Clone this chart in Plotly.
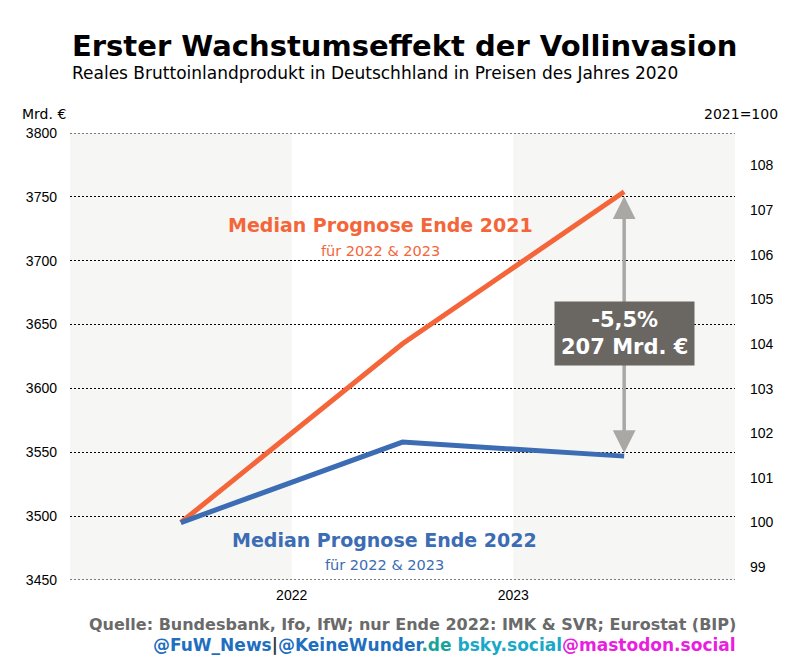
"""Erster Wachstumseffekt der Vollinvasion - BIP-Prognosen Ende 2021 vs. Ende 2022"""

import plotly.graph_objects as go

# data
periods = ["2021", "2022", "2023"]
prognose_2021 = [3495, 3635, 3754]
prognose_2022 = [3495, 3558, 3547]
left_ticks = [3450, 3500, 3550, 3600, 3650, 3700, 3750, 3800]
right_ticks = [99, 100, 101, 102, 103, 104, 105, 106, 107, 108]
year_ticks = ["2022", "2023"]

ORANGE = "#f4663a"
BLUE = "#3b6cb4"
GRAY_BOX = "#6a6662"
GRID_DASH = "2px,2px"

x_pos = list(range(len(periods)))
y_range = [3450, 3800]
base = prognose_2021[0]
# right axis in index points (2021=100)
y2_range = [100 * v / base for v in y_range]

fig = go.Figure()

fig.add_trace(go.Scatter(x=x_pos, y=prognose_2021, mode="lines",
                         line=dict(color=ORANGE, width=5), showlegend=False))
fig.add_trace(go.Scatter(x=x_pos, y=prognose_2022, mode="lines",
                         line=dict(color=BLUE, width=5), showlegend=False))
# invisible trace so the right axis is drawn
fig.add_trace(go.Scatter(x=[x_pos[0]], y=[100], yaxis="y2", mode="markers",
                         marker=dict(opacity=0), showlegend=False, hoverinfo="skip"))

# light bands for every second year
for x0 in (-0.5, 1.5):
    fig.add_shape(type="rect", xref="x", yref="y", x0=x0, x1=x0 + 1,
                  y0=y_range[0], y1=y_range[1], fillcolor="#f6f6f4",
                  line=dict(width=0), layer="below")

# plotly leaves out the grid lines at the range ends, so draw them on top
for yv in y_range:
    fig.add_shape(type="line", xref="paper", yref="y", x0=0, x1=1, y0=yv, y1=yv,
                  line=dict(color="black", width=1, dash=GRID_DASH), layer="above")

annotations = []

# series labels
annotations.append(dict(x=0.9, y=3728, text="<b>Median Prognose Ende 2021</b>", showarrow=False,
                        font=dict(family="DejaVu Sans", size=19, color=ORANGE)))
annotations.append(dict(x=0.9, y=3708, text="für 2022 & 2023", showarrow=False,
                        font=dict(family="DejaVu Sans", size=14.5, color=ORANGE)))
annotations.append(dict(x=0.92, y=3481, text="<b>Median Prognose Ende 2022</b>", showarrow=False,
                        font=dict(family="DejaVu Sans", size=19, color=BLUE)))
annotations.append(dict(x=0.92, y=3462, text="für 2022 & 2023", showarrow=False,
                        font=dict(family="DejaVu Sans", size=14.5, color=BLUE)))

# double headed arrow between the two forecasts
gap = prognose_2021[-1] - prognose_2022[-1]
annotations.append(dict(x=x_pos[-1], y=prognose_2022[-1], ax=x_pos[-1], ay=prognose_2021[-1],
                        xref="x", yref="y", axref="x", ayref="y", text="",
                        showarrow=True, arrowhead=2, arrowside="end+start",
                        arrowsize=1.3, arrowwidth=3.5, arrowcolor="#a9a8a4",
                        startstandoff=3, standoff=3))
pct = gap / prognose_2021[-1] * 100
annotations.append(dict(x=x_pos[-1], y=3643,
                        text=f"<b>-{pct:.1f}%<br>{gap} Mrd. €</b>".replace(".", ",", 1),
                        showarrow=False, bgcolor=GRAY_BOX, borderpad=6,
                        font=dict(family="DejaVu Sans", size=21, color="white")))

# axis unit labels
annotations.append(dict(xref="paper", yref="paper", x=-0.075, y=1.02, xanchor="left", yanchor="bottom",
                        text="Mrd. €", showarrow=False,
                        font=dict(family="DejaVu Sans", size=14, color="black")))
annotations.append(dict(xref="paper", yref="paper", x=1.068, y=1.02, xanchor="right", yanchor="bottom",
                        text="2021=100", showarrow=False,
                        font=dict(family="DejaVu Sans", size=14, color="black")))

# title and subtitle
annotations.append(dict(xref="paper", yref="paper", x=0, y=1.195, xanchor="left", yanchor="middle",
                        text="<b>Erster Wachstumseffekt der Vollinvasion</b>", showarrow=False,
                        font=dict(family="DejaVu Sans", size=29, color="black")))
annotations.append(dict(xref="paper", yref="paper", x=0, y=1.134, xanchor="left", yanchor="middle",
                        text="Reales Bruttoinlandprodukt in Deutschhland in Preisen des Jahres 2020",
                        showarrow=False, font=dict(family="DejaVu Sans", size=17, color="black")))

# source footer
annotations.append(dict(xref="paper", yref="paper", x=1.005, y=-0.1, xanchor="right", yanchor="middle",
                        text="<b>Quelle: Bundesbank, Ifo, IfW; nur Ende 2022: IMK & SVR; Eurostat (BIP)</b>",
                        showarrow=False, font=dict(family="DejaVu Sans", size=16, color="#6a6a6a")))
annotations.append(dict(xref="paper", yref="paper", x=1.005, y=-0.145, xanchor="right", yanchor="middle",
                        text=("<b><span style='color:#1f6fc0'>@FuW_News</span>"
                              "<span style='color:#333'>|</span>"
                              "<span style='color:#1f6fc0'>@KeineWunder</span>"
                              "<span style='color:#1aa39a'>.de </span>"
                              "<span style='color:#1aa8c8'>bsky.social</span>"
                              "<span style='color:#e81ee0'>@mastodon.social</span></b>"),
                        showarrow=False, font=dict(family="DejaVu Sans", size=17)))

# page body has an 8px margin, so the figure is drawn 8px smaller and shifted
fig.update_layout(
    width=792, height=659,
    margin=dict(l=62, r=65, t=125, b=87),
    plot_bgcolor="white", paper_bgcolor="white",
    annotations=annotations,
    xaxis=dict(range=[-0.5, 2.5], tickvals=[0.5, 1.5], ticktext=year_ticks,
               showgrid=False, zeroline=False, showline=False, ticks="", ticklabelstandoff=5,
               tickfont=dict(family="Liberation Sans", size=14, color="black")),
    yaxis=dict(range=y_range, tickvals=left_ticks, showgrid=True, gridcolor="black",
               griddash=GRID_DASH, gridwidth=1, zeroline=False, ticks="", ticklabelstandoff=12,
               tickfont=dict(family="Liberation Sans", size=14, color="black")),
    yaxis2=dict(range=y2_range, tickvals=right_ticks, overlaying="y", side="right",
                showgrid=False, zeroline=False, ticks="", ticklabelstandoff=14,
                tickfont=dict(family="Liberation Sans", size=14, color="black")),
)

fig.write_html("out.html")
